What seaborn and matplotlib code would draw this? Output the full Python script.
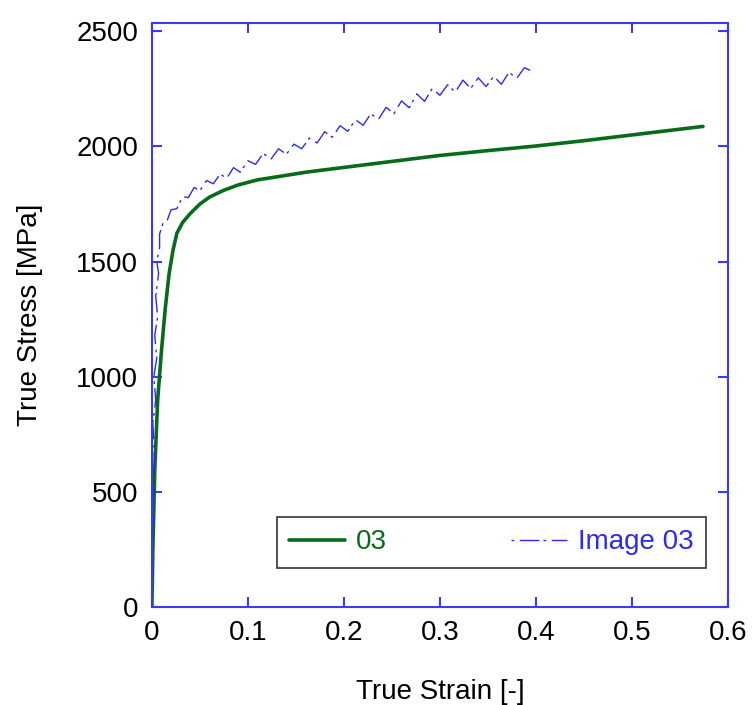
import numpy as np
import pandas as pd
import matplotlib
matplotlib.use("Agg")
import matplotlib.pyplot as plt
import seaborn as sns

# Simulated curve "03"
strain_03 = [0, 0.001, 0.003, 0.006, 0.010, 0.014, 0.018, 0.022, 0.026, 0.032, 0.040,
             0.050, 0.060, 0.075, 0.090, 0.110, 0.130, 0.160, 0.200, 0.250, 0.300,
             0.350, 0.400, 0.450, 0.500, 0.574]
stress_03 = [0, 250, 600, 900, 1115, 1300, 1450, 1550, 1623, 1670, 1709,
             1750, 1780, 1810, 1833, 1855, 1868, 1888, 1909, 1935, 1961,
             1982, 2002, 2025, 2050, 2087]

strain_img = [0.000, 0.001, 0.000, 0.002, 0.001, 0.003, 0.001, 0.004, 0.002, 0.005,
              0.003, 0.006, 0.004, 0.007, 0.005, 0.008,
              0.008, 0.012, 0.016, 0.020, 0.026, 0.032, 0.038, 0.044, 0.050, 0.057,
              0.064, 0.071, 0.078, 0.085, 0.092, 0.100, 0.108, 0.116, 0.124, 0.132,
              0.140, 0.148, 0.156, 0.164, 0.172, 0.180, 0.188, 0.196, 0.204, 0.212,
              0.220, 0.228, 0.236, 0.244, 0.252, 0.260, 0.268, 0.276, 0.284, 0.292,
              0.300, 0.308, 0.316, 0.324, 0.332, 0.340, 0.348, 0.356, 0.364, 0.372,
              0.380, 0.388, 0.394]
stress_img = [0, 180, 340, 380, 560, 620, 800, 900, 1000, 1080,
              1180, 1260, 1350, 1450, 1500, 1560,
              1620, 1672, 1680, 1725, 1730, 1782, 1778, 1822, 1808, 1852,
              1838, 1880, 1862, 1908, 1888, 1938, 1922, 1970, 1945, 1990,
              1966, 2010, 1990, 2036, 2015, 2064, 2040, 2090, 2066, 2116,
              2092, 2142, 2118, 2170, 2142, 2198, 2168, 2228, 2196, 2252,
              2222, 2268, 2236, 2288, 2252, 2298, 2260, 2305, 2270, 2322,
              2296, 2342, 2330]

sns.set_theme(style="white")
plt.rcParams["font.family"] = ["Liberation Sans", "DejaVu Sans"]
plt.rcParams["lines.scale_dashes"] = False

green = "#086b1a"
blue = "#2b2bf0"
axis_blue = "#3a3af5"

fig = plt.figure(figsize=(7.52, 7.05), dpi=100)
ax = fig.add_axes([0.202, 0.139, 0.766, 0.828])

df03 = pd.DataFrame({"x": strain_03, "y": stress_03})
dfimg = pd.DataFrame({"x": strain_img, "y": stress_img})

sns.lineplot(data=df03, x="x", y="y", sort=False, estimator=None, ax=ax,
             color=green, linewidth=2.6, label="03")
sns.lineplot(data=dfimg, x="x", y="y", sort=False, estimator=None, ax=ax,
             color=blue, linewidth=1.0, label="Image 03")
ax.lines[1].set_dashes((2, 4, 14, 3))

ax.set_xlim(0, 0.6)
ax.set_ylim(0, 2535)
ax.set_xticks([0, 0.1, 0.2, 0.3, 0.4, 0.5, 0.6])
ax.set_xticklabels(["0", "0.1", "0.2", "0.3", "0.4", "0.5", "0.6"])
ax.set_yticks([0, 500, 1000, 1500, 2000, 2500])

for s in ax.spines.values():
    s.set_color(axis_blue)
    s.set_linewidth(1.5)
ax.tick_params(direction="in", length=7, width=1.5, color=axis_blue,
               labelsize=20, labelcolor="black", top=True, right=True,
               bottom=True, left=True)
ax.tick_params(axis="x", pad=9)
ax.tick_params(axis="y", pad=10)

ax.set_xlabel("True Strain [-]", fontsize=20, labelpad=24, color="black")
ax.set_ylabel("True Stress [MPa]", fontsize=20, labelpad=24, color="black")

leg = ax.legend(loc="lower left", bbox_to_anchor=(0.217, 0.067, 0.745, 0.089),
                mode="expand", ncol=2, fontsize=20, frameon=True, fancybox=False,
                labelcolor="linecolor", handlelength=2.0, handletextpad=0.4,
                borderpad=0.45, borderaxespad=0.0)
leg.get_frame().set_edgecolor("black")
leg.get_frame().set_linewidth(1.2)

fig.savefig("out.png", dpi=100)
